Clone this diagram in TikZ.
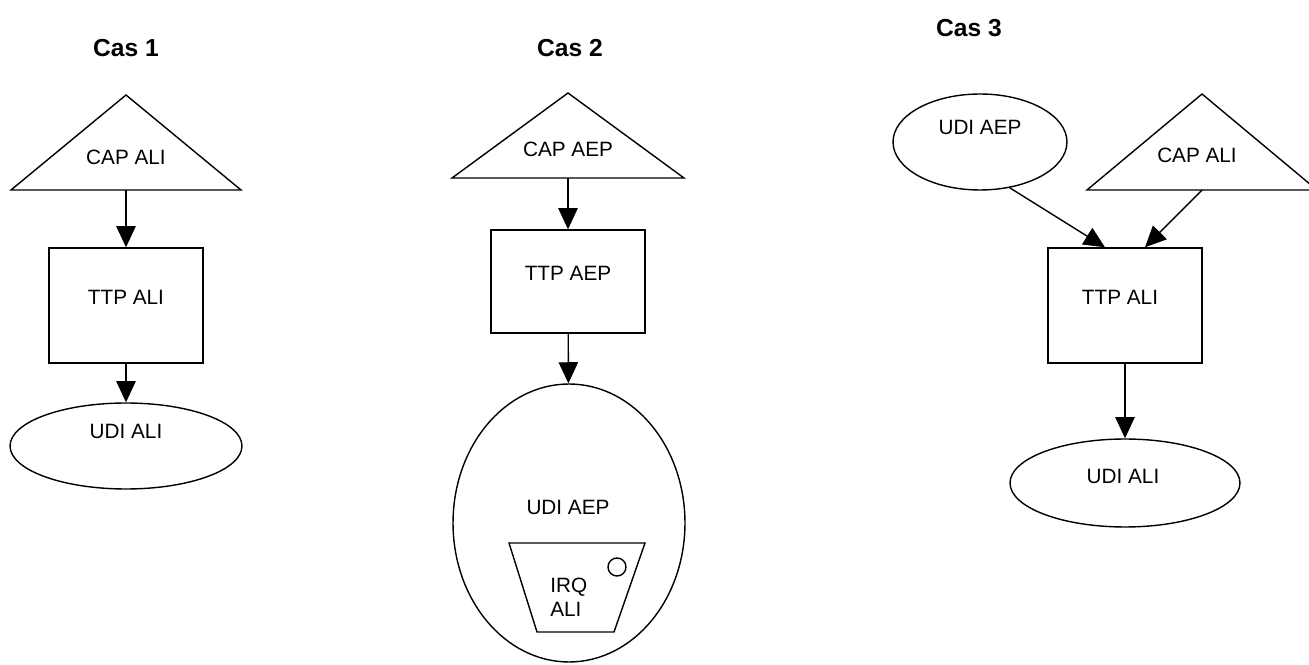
\documentclass[tikz,border=0pt]{standalone}
\usepackage{fontspec}
\setmainfont{Liberation Sans}
\usetikzlibrary{arrows.meta,shapes.geometric}

\tikzset{
  boite/.style={draw, line width=0.8pt, minimum width=3.08cm, minimum height=2.3cm, inner sep=0pt},
  oval/.style={draw, ellipse, line width=0.8pt, inner sep=0pt},
  txt/.style={font=\fontsize{11.8}{13.6}\selectfont, inner sep=0pt},
  titre/.style={font=\bfseries\fontsize{14}{17}\selectfont, inner sep=0pt},
  fleche/.style={-{Triangle[length=12pt,width=11pt]}, line width=0.8pt},
  trait/.style={line width=0.8pt, line join=miter},
}

\begin{document}
\begin{tikzpicture}[x=0.02cm,y=-0.02cm]

	\useasboundingbox (0,0) rectangle (1309,665);

	% Cas 1
	\node[titre] (titre1) at (126,48) {Cas 1};
	\draw[trait] (11,190) -- (126,95) -- (241,190) -- cycle;
	\coordinate (cap1) at (126,190);
	\node[txt] (cap1-txt) at (126,157) {CAP ALI};
	\node[boite] (ttp1) at (126,305.5) {};
	\node[txt] (ttp1-txt) at (126,297) {TTP ALI};
	\node[oval, minimum width=4.64cm, minimum height=1.72cm] (udi1) at (126,446) {};
	\node[txt] (udi1-txt) at (126,431) {UDI ALI};
	\draw[fleche] (cap1) -- (ttp1);
	\draw[fleche] (ttp1) -- (udi1);

	% Cas 2
	\node[titre] (titre2) at (570,48) {Cas 2};
	\draw[trait] (452,178) -- (568,93) -- (684,178) -- cycle;
	\coordinate (cap2) at (568,178);
	\node[txt] (cap2-txt) at (568,149) {CAP AEP};
	\node[boite, minimum height=2.06cm] (ttp2) at (568,281.5) {};
	\node[txt] (ttp2-txt) at (568,273) {TTP AEP};
	\node[oval, minimum width=4.64cm, minimum height=5.56cm] (udi2) at (569,523) {};
	\node[txt] (udi2-txt) at (568,507) {UDI AEP};
	\draw[trait] (509,543) -- (645,543) -- (614,632) -- (537,632) -- cycle;
	\node[draw, circle, line width=0.8pt, minimum size=0.36cm, inner sep=0pt] (irq-pt) at (617,567) {};
	\node[txt, align=left, anchor=west] (irq) at (550,597) {IRQ\\ALI};
	\draw[fleche] (cap2) -- (ttp2);
	\draw[fleche] (ttp2) -- (udi2);

	% Cas 3
	\node[titre] (titre3) at (969,28) {Cas 3};
	\node[oval, minimum width=3.48cm, minimum height=1.92cm] (udi3) at (980,142) {};
	\node[txt] (udi3-txt) at (980,127) {UDI AEP};
	\draw[trait] (1087,190) -- (1202,94) -- (1317,190) -- cycle;
	\coordinate (cap3) at (1202,190);
	\node[txt] (cap3-txt) at (1197,155) {CAP ALI};
	\node[boite] (ttp3) at (1125,305.5) {};
	\node[txt] (ttp3-txt) at (1120,297) {TTP ALI};
	\node[oval, minimum width=4.6cm, minimum height=1.76cm] (udi4) at (1125,483) {};
	\node[txt] (udi4-txt) at (1123,476) {UDI ALI};
	\draw[fleche] (udi3.-57) -- ([xshift=-0.4cm]ttp3.north);
	\draw[fleche] (cap3) -- ([xshift=0.4cm]ttp3.north);
	\draw[fleche] (ttp3) -- (udi4);

\end{tikzpicture}
\end{document}
